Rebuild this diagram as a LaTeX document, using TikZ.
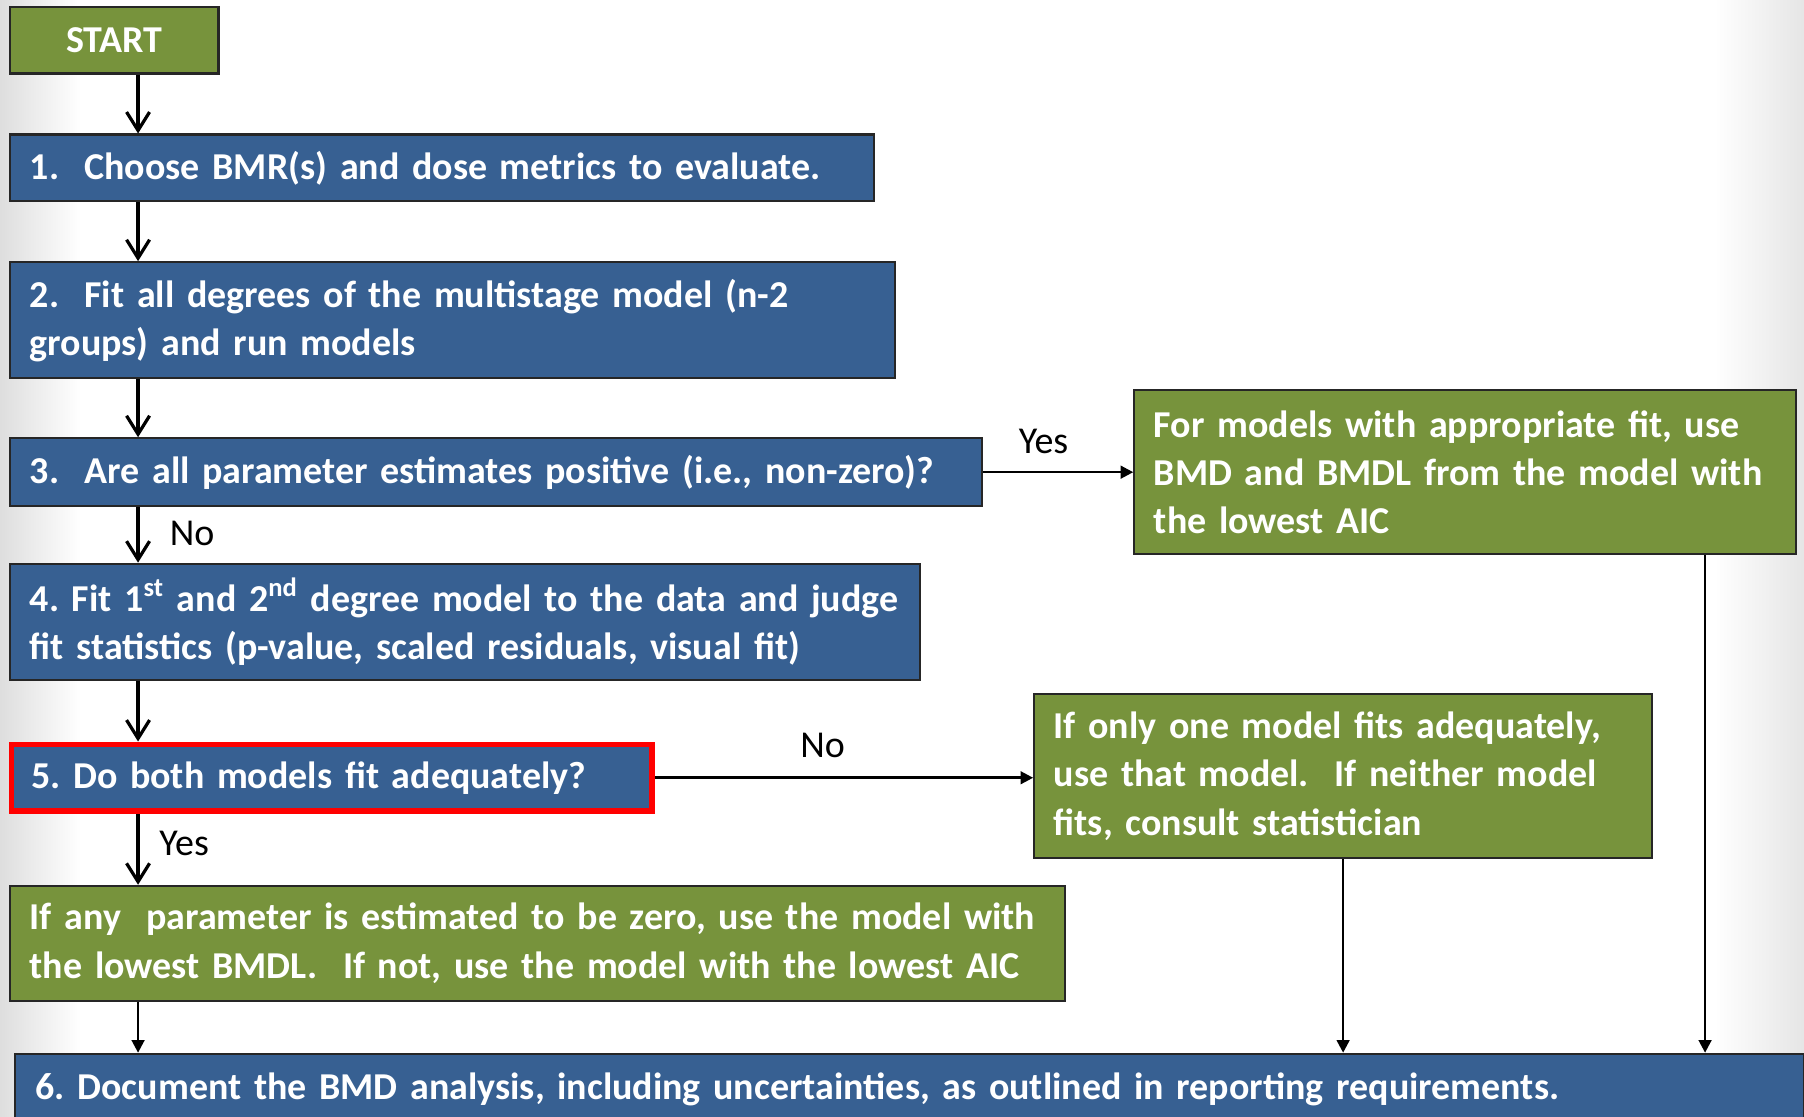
\documentclass[tikz,border=0pt]{standalone}
\usepackage{fontspec}
\setmainfont{Carlito}
\usetikzlibrary{arrows.meta}
\definecolor{boxblue}{RGB}{55,96,146}
\definecolor{boxgreen}{RGB}{119,147,60}
\begin{document}
\frenchspacing
\begin{tikzpicture}[x=0.5pt,y=-0.5pt,
 box/.style={draw=black!85, line width=0.9pt, anchor=north west, inner xsep=8.5pt, inner ysep=0pt, align=left, text=white, font=\fontsize{16.5}{21}\selectfont\bfseries},
 bluebox/.style={box, fill=boxblue},
 greenbox/.style={box, fill=boxgreen},
 flow/.style={line width=1.4pt, -{Straight Barb[length=8pt,width=10pt]}},
 side/.style={line width=1.1pt, -{Triangle[length=5.5pt,width=5.5pt]}},
 lbl/.style={font=\fontsize{16.5}{20}\selectfont, text=black, inner sep=0pt}]
\useasboundingbox (0,0) rectangle (1568,970);
\fill[white] (0,0) rectangle (1568,970);
\shade[left color=black!13, right color=white] (0,0) rectangle (70,970);
\shade[left color=white, right color=black!10] (1490,0) rectangle (1568,970);

\node[greenbox, minimum width=90.5pt, minimum height=29pt, inner xsep=0pt, align=center] (start) at (8,5) {START};
\node[bluebox, minimum width=375.5pt, minimum height=29pt, text width=358.5pt] (b1) at (8,116) {\mbox{1.\ \ Choose BMR(s) and dose metrics to evaluate.}};
\node[bluebox, minimum width=384.5pt, minimum height=50.5pt, text width=367.5pt] (b2) at (8,227) {\mbox{2.\ \ Fit all degrees of the multistage model (n-2}\\\mbox{groups) and run models}};
\node[bluebox, minimum width=422.5pt, minimum height=29.5pt, text width=405.5pt] (b3) at (8,380) {\mbox{3.\ \ Are all parameter estimates positive (i.e., non-zero)?}};
\node[bluebox, minimum width=395.5pt, minimum height=50.5pt, text width=378.5pt] (b4) at (8,489) {\mbox{4. Fit 1\textsuperscript{st} and 2\textsuperscript{nd} degree model to the data and judge}\\\mbox{fit statistics (p-value, scaled residuals, visual fit)}};
\node[bluebox, draw=red, line width=2.5pt, minimum width=278.5pt, minimum height=29pt, text width=261.5pt] (b5) at (7.5,644.5) {\mbox{5. Do both models fit adequately?}};
\node[greenbox, minimum width=287.5pt, minimum height=71.5pt, text width=270.5pt] (A) at (985,338) {\mbox{For models with appropriate fit, use}\\\mbox{BMD and BMDL from the model with}\\\mbox{the lowest AIC}};
\node[greenbox, minimum width=268.5pt, minimum height=71.5pt, text width=251.5pt] (B) at (898,602) {\mbox{If only one model fits adequately,}\\\mbox{use that model.\ \ If neither model}\\\mbox{fits, consult statistician}};
\node[greenbox, minimum width=458.5pt, minimum height=50pt, text width=441.5pt] (C) at (8,769) {\mbox{If any\ \ parameter is estimated to be zero, use the model with}\\\mbox{the lowest BMDL.\ \ If not, use the model with the lowest AIC}};
\node[bluebox, minimum width=776.5pt, minimum height=31pt, text width=759.5pt, inner xsep=9pt] (b6) at (12,915) {\mbox{6. Document the BMD analysis, including uncertainties, as outlined in reporting requirements.}};

\coordinate (ax) at (120,0);
\coordinate (rx) at (1482,0);
\draw[flow] (start.south -| ax) -- (b1.north -| ax);
\draw[flow] (b1.south -| ax) -- (b2.north -| ax);
\draw[flow] (b2.south -| ax) -- (b3.north -| ax);
\draw[flow] (b3.south -| ax) -- (b4.north -| ax);
\draw[flow] (b4.south -| ax) -- (b5.north -| ax);
\draw[flow] (b5.south -| ax) -- (C.north -| ax);
\draw[side] (C.south -| ax) -- (b6.north -| ax);
\draw[side] (b3.east) -- (b3.east -| A.west);
\draw[side] (b5.east) -- (b5.east -| B.west);
\draw[side] (B.south) -- (b6.north -| B.south);
\draw[side] (A.south -| rx) -- (b6.north -| rx);

\node[lbl] (yes1) at (907,384) {Yes};
\node[lbl] (no1) at (167,464) {No};
\node[lbl] (no2) at (715,648) {No};
\node[lbl] (yes2) at (160,733) {Yes};
\end{tikzpicture}
\end{document}
